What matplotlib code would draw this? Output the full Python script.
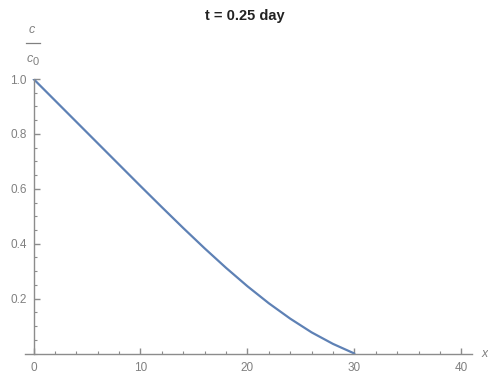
import matplotlib
matplotlib.use("Agg")
import matplotlib.pyplot as plt
from matplotlib.ticker import MultipleLocator, FixedLocator
from matplotlib.lines import Line2D

x_vals = [0, 2, 4, 6, 8, 10, 12, 14, 16, 18, 20, 22, 24, 26, 28, 30]
c_vals = [1.0, 0.922, 0.844, 0.766, 0.688, 0.610, 0.533, 0.457, 0.383,
          0.312, 0.245, 0.183, 0.127, 0.077, 0.035, 0.0]
x_ticks = [0, 10, 20, 30, 40]
y_ticks = [0.2, 0.4, 0.6, 0.8, 1.0]
title = "t = 0.25 day"

plt.rcParams['font.family'] = ['Liberation Sans', 'DejaVu Sans']
W, H = 489, 376
fig = plt.figure(figsize=(W/100, H/100), dpi=100)
ax = fig.add_axes([25/W, (H-353.5)/H, (472-25)/W, 274.5/H])

ax.plot(x_vals, c_vals, color='#5E81B5', lw=1.6, solid_capstyle='round',
        solid_joinstyle='round')
ax.set_xlim(-0.8, 41)
ax.set_ylim(0, 1.0)

axis_col = '#8c8c8c'
lab_col = '#808080'
for s in ['top', 'right']:
    ax.spines[s].set_visible(False)
ax.spines['left'].set_position(('data', 0))
ax.spines['bottom'].set_position(('data', 0))
for s in ['left', 'bottom']:
    ax.spines[s].set_color(axis_col)
    ax.spines[s].set_linewidth(1.0)

ax.xaxis.set_major_locator(FixedLocator(x_ticks))
ax.xaxis.set_minor_locator(MultipleLocator(2))
ax.yaxis.set_major_locator(FixedLocator(y_ticks))
ax.yaxis.set_minor_locator(MultipleLocator(0.05))
ax.set_xticklabels([str(t) for t in x_ticks])
ax.set_yticklabels([f"{t:.1f}" for t in y_ticks])
ax.tick_params(which='both', direction='in', color=axis_col, labelcolor=lab_col,
               labelsize=8.5)
ax.tick_params(which='major', length=4, width=1.0)
ax.tick_params(which='minor', length=2.5, width=0.8)
ax.tick_params(axis='x', which='major', pad=6)
ax.tick_params(axis='y', which='major', pad=5)

fig.text(245/W, 1 - 16/H, title, ha='center', va='center', fontsize=10.5,
         fontweight='bold', color='#222222')
# axis labels
fig.text(485/W, 1 - 354/H, 'x', ha='center', va='center', fontsize=9,
         style='italic', color=lab_col)
fig.text(32/W, 1 - 30/H, 'c', ha='center', va='center', fontsize=9,
         style='italic', color=lab_col)
fig.add_artist(Line2D([26/W, 40/W], [1 - 43/H, 1 - 43/H], color=lab_col, lw=0.9))
fig.text(29.5/W, 1 - 59/H, 'c', ha='center', va='center', fontsize=9,
         style='italic', color=lab_col)
fig.text(36/W, 1 - 62/H, '0', ha='center', va='center', fontsize=8,
         color=lab_col)

fig.savefig('out.png', dpi=100)
